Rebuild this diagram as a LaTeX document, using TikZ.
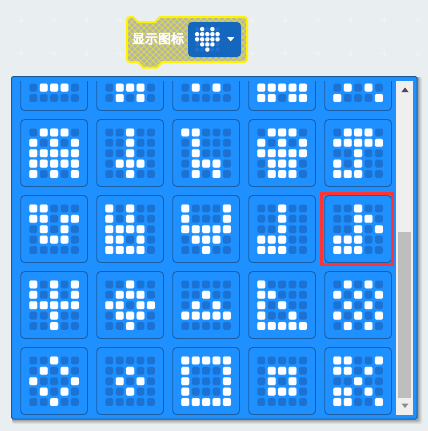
\documentclass[tikz,border=0pt]{standalone}
\usepackage{fontspec}
\newfontfamily\cjkfont[FakeBold=4]{Noto Sans CJK SC}
\definecolor{pagebg}{HTML}{E9EEF0}
\definecolor{gridmark}{HTML}{F1F4F5}
\definecolor{panelblue}{HTML}{1E90FF}
\definecolor{paneledge}{HTML}{1C5C94}
\definecolor{cardedge}{HTML}{1A5FA6}
\definecolor{dotoff}{HTML}{1C72D2}
\definecolor{dropblue}{HTML}{1567BE}
\definecolor{hoodgrey}{HTML}{B4B4AC}
\definecolor{hatch}{HTML}{D8D850}
\definecolor{scrolltrack}{HTML}{EFEFEF}
\definecolor{scrollthumb}{HTML}{BEBEBE}
\definecolor{selectred}{HTML}{FF3333}
\tikzset{
  cardbox/.style={draw=cardedge,line width=0.9pt,rounded corners=4pt},
  offdot/.style={fill=dotoff,rounded corners=1.5pt},
  ondot/.style={fill=white,rounded corners=1.2pt},
  glowdot/.style={fill=white,fill opacity=0.3,rounded corners=2pt},
}
\newcommand{\icondot}[5]{% size, glow, cx, cy, bit
  \ifnum#5=1
    \path[glowdot] (#3-#1/2-#2,#4-#1/2-#2) rectangle (#3+#1/2+#2,#4+#1/2+#2);
    \path[ondot] (#3-#1/2,#4-#1/2) rectangle (#3+#1/2,#4+#1/2);
  \else
    \path[offdot] (#3-#1/2,#4-#1/2) rectangle (#3+#1/2,#4+#1/2);
  \fi}
\newcommand{\cardrow}[5]{%
  \icondot{7.8}{0.3}{12.6+10.4*0}{12.9+10.4*\rowidx}{#1}%
  \icondot{7.8}{0.3}{12.6+10.4*1}{12.9+10.4*\rowidx}{#2}%
  \icondot{7.8}{0.3}{12.6+10.4*2}{12.9+10.4*\rowidx}{#3}%
  \icondot{7.8}{0.3}{12.6+10.4*3}{12.9+10.4*\rowidx}{#4}%
  \icondot{7.8}{0.3}{12.6+10.4*4}{12.9+10.4*\rowidx}{#5}}
\newcommand{\iconcard}[3]{%
  \begin{scope}[shift={(#1,#2)}]
    \draw[cardbox] (0,0) rectangle (66.8,67);
    \foreach \rowbits [count=\rowidx from 0] in {#3}{\expandafter\cardrow\rowbits}
  \end{scope}}
\newcommand{\heartrow}[5]{%
  \icondot{4.0}{0.3}{-10.2+5.1*0}{-10.2+5.1*\rowidx}{#1}%
  \icondot{4.0}{0.3}{-10.2+5.1*1}{-10.2+5.1*\rowidx}{#2}%
  \icondot{4.0}{0.3}{-10.2+5.1*2}{-10.2+5.1*\rowidx}{#3}%
  \icondot{4.0}{0.3}{-10.2+5.1*3}{-10.2+5.1*\rowidx}{#4}%
  \icondot{4.0}{0.3}{-10.2+5.1*4}{-10.2+5.1*\rowidx}{#5}}
\begin{document}
\begin{tikzpicture}[x=1pt,y=-1pt]
\fill[pagebg] (0,0) rectangle (428,431);
\useasboundingbox (0,0) rectangle (428,431);
% background grid marks
\foreach \gx in {21,54,...,417}{\foreach \gy in {20,53}{
  \draw[gridmark,line width=0.8pt] (\gx-3,\gy) -- (\gx+3,\gy) (\gx,\gy-3) -- (\gx,\gy+3);}}
% block
\def\blockoutline{(130,17) -- (133,17) -- (138,22) -- (155,22) -- (160,17) -- (244,17)
  arc[start angle=-90,end angle=0,radius=3] -- (247,59) arc[start angle=0,end angle=90,radius=3]
  -- (162,62) -- (157,67.5) -- (143,67.5) -- (138,62) -- (130,62)
  arc[start angle=90,end angle=180,radius=3] -- (127,20) arc[start angle=180,end angle=270,radius=3] -- cycle}
\fill[hoodgrey] \blockoutline;
\begin{scope}
  \clip \blockoutline;
  \foreach \hx in {60,66,...,260}{
    \draw[hatch,line width=0.8pt] (\hx,10) -- (\hx+60,70);
    \draw[hatch,line width=0.8pt] (\hx+60,10) -- (\hx,70);}
\end{scope}
\draw[yellow,line width=2pt,line join=round] \blockoutline;
\fill[dropblue,rounded corners=4pt] (188,22) rectangle (241,57);
\begin{scope}[shift={(207.3,39.3)}]
  \foreach \rowbits [count=\rowidx from 0] in {01010,11111,11111,01110,00100}{\expandafter\heartrow\rowbits}
\end{scope}
\fill[white,rounded corners=0.5pt] (227,37) -- (234.4,37) -- (230.7,41.4) -- cycle;
\node[text=white,inner sep=0pt,anchor=center,font=\cjkfont\fontsize{13}{14}\selectfont] (blocklabel) at (158,38.5) {显示图标};
% panel shadow
\foreach \sh/\op in {4/0.05,3/0.07,2/0.09,1/0.12}{
  \fill[black,fill opacity=\op,rounded corners=2pt] (12,77) rectangle (418+\sh,420+\sh);}
\fill[panelblue,draw=paneledge,line width=1pt,rounded corners=1.5pt] (11.5,76.5) rectangle (417,419);
% scrollbar
\fill[scrolltrack] (396,81) rectangle (413,415);
\fill[scrollthumb] (398,232) rectangle (411,398);
\fill[black!70] (401.5,92) -- (408.5,92) -- (405,87.5) -- cycle;
\fill[black!45] (401.5,403.5) -- (408.5,403.5) -- (405,408) -- cycle;
% icon cards
\begin{scope}
\clip (12,81) rectangle (396,415);
\iconcard{20.7}{43.5}{00000,00000,00000,01110,00000}
\iconcard{96.7}{43.5}{00000,00000,00000,01110,01010}
\iconcard{172.7}{43.5}{00000,00000,00000,01010,00000}
\iconcard{248.7}{43.5}{00000,00000,00000,11111,11011}
\iconcard{324.7}{43.5}{00000,00000,00000,01010,10001}
\iconcard{20.7}{119.5}{01110,10101,11111,11111,10101}
\iconcard{96.7}{119.5}{00100,00100,00100,01110,00100}
\iconcard{172.7}{119.5}{11000,01000,01000,01110,01010}
\iconcard{248.7}{119.5}{01110,10101,11111,01110,01110}
\iconcard{324.7}{119.5}{01110,11111,00100,10100,11100}
\iconcard{20.7}{195.5}{11000,11011,01010,01110,00000}
\iconcard{96.7}{195.5}{10100,10100,11110,11010,11110}
\iconcard{172.7}{195.5}{10001,10001,11111,01110,00100}
\iconcard{248.7}{195.5}{00100,00100,00100,11100,11100}
\iconcard{324.7}{195.5}{00100,00110,00101,11100,11100}
\iconcard{20.7}{271.5}{10101,10101,11111,00100,00100}
\iconcard{96.7}{271.5}{00100,01110,11011,01110,00100}
\iconcard{172.7}{271.5}{00000,00100,01010,11111,00000}
\iconcard{248.7}{271.5}{10000,11000,10100,10010,11111}
\iconcard{324.7}{271.5}{01010,10101,01010,10101,01010}
\iconcard{20.7}{347.5}{00100,01010,10001,01010,00100}
\iconcard{96.7}{347.5}{00000,00100,01010,00100,00000}
\iconcard{172.7}{347.5}{11111,10001,10001,10001,11111}
\iconcard{248.7}{347.5}{00000,01110,01010,01110,00000}
\iconcard{324.7}{347.5}{11001,11010,00100,11010,11001}
\end{scope}
% selection frame
\draw[selectred,line width=3pt] (321.5,193.5) rectangle (392.8,264.5);
\end{tikzpicture}
\end{document}
